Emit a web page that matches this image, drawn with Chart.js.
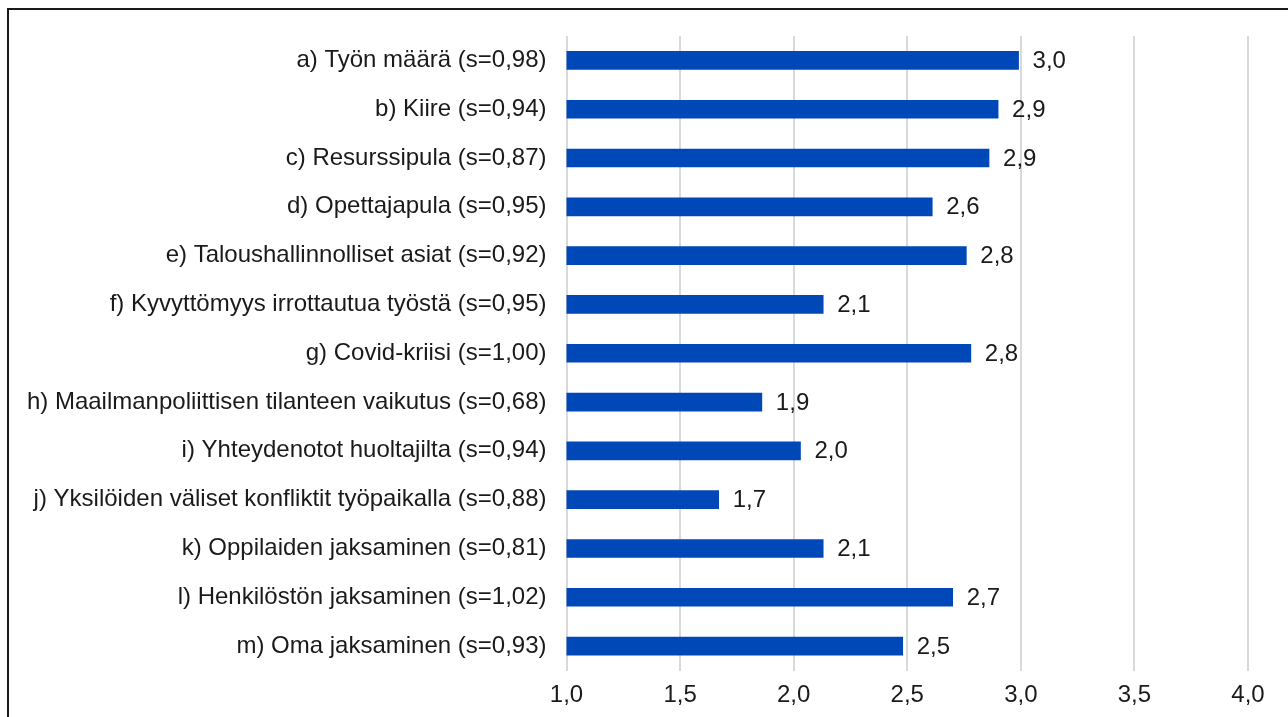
<!DOCTYPE html>
<html>
<head>
<meta charset="utf-8">
<style>
  html, body { margin: 0; padding: 0; background: #fff; overflow: hidden; }
  #frame {
    position: absolute; left: 7px; top: 8px;
    width: 1320px; height: 760px;
    border: 2px solid #1a1a1a; box-sizing: border-box;
  }
  #chart { position: absolute; left: 0; top: 0; }
</style>
</head>
<body>
<div id="frame"></div>
<canvas id="chart" width="1288" height="717"></canvas>
<script src="https://cdn.jsdelivr.net/npm/chart.js@4"></script>
<script>
// categories (top to bottom)
const categories = [
  'a) Työn määrä (s=0,98)',
  'b) Kiire (s=0,94)',
  'c) Resurssipula (s=0,87)',
  'd) Opettajapula (s=0,95)',
  'e) Taloushallinnolliset asiat (s=0,92)',
  'f) Kyvyttömyys irrottautua työstä (s=0,95)',
  'g) Covid-kriisi (s=1,00)',
  'h) Maailmanpoliittisen tilanteen vaikutus (s=0,68)',
  'i) Yhteydenotot huoltajilta (s=0,94)',
  'j) Yksilöiden väliset konfliktit työpaikalla (s=0,88)',
  'k) Oppilaiden jaksaminen (s=0,81)',
  'l) Henkilöstön jaksaminen (s=1,02)',
  'm) Oma jaksaminen (s=0,93)'
];

// mean values
const means = [2.99, 2.90, 2.86, 2.61, 2.76, 2.13, 2.78, 1.86, 2.03, 1.67, 2.13, 2.70, 2.48];

// x axis
const xMin = 1.0;
const xMax = 4.0;
const xStep = 0.5;

const BLUE = '#0047b7';
const TEXT = '#1a1a1a';
const FONT = "'Liberation Sans', Arial, sans-serif";

const fmt = v => v.toFixed(1).replace('.', ',');

// draws the value next to the end of each bar
const valueLabels = {
  id: 'valueLabels',
  afterDatasetsDraw(chart) {
    const ctx = chart.ctx;
    const meta = chart.getDatasetMeta(0);
    ctx.save();
    ctx.font = '24px ' + FONT;
    ctx.fillStyle = TEXT;
    ctx.textAlign = 'left';
    ctx.textBaseline = 'middle';
    meta.data.forEach((bar, i) => {
      ctx.fillText(fmt(means[i]), bar.x + 14, bar.y + 1);
    });
    ctx.restore();
  }
};

new Chart(document.getElementById('chart'), {
  type: 'bar',
  data: {
    labels: categories,
    datasets: [{
      data: means,
      backgroundColor: BLUE,
      borderWidth: 0,
      barThickness: 18
    }]
  },
  options: {
    indexAxis: 'y',
    responsive: false,
    animation: false,
    layout: { padding: { top: 36, right: 40, bottom: 0, left: 0 } },
    plugins: {
      legend: { display: false },
      tooltip: { enabled: false }
    },
    scales: {
      x: {
        min: xMin,
        max: xMax,
        afterFit(scale) { scale.height = 46.5; },
        border: { display: false },
        grid: { color: '#d9d9d9', lineWidth: 2, drawTicks: false },
        ticks: {
          stepSize: xStep,
          padding: 10,
          color: TEXT,
          font: { family: FONT, size: 24 },
          callback: v => fmt(v)
        }
      },
      y: {
        afterFit(scale) { scale.width = 566.5; },
        border: { display: false },
        grid: { display: false },
        ticks: {
          padding: 12,
          color: TEXT,
          font: { family: FONT, size: 24 }
        }
      }
    }
  },
  plugins: [valueLabels]
});
</script>
</body>
</html>
